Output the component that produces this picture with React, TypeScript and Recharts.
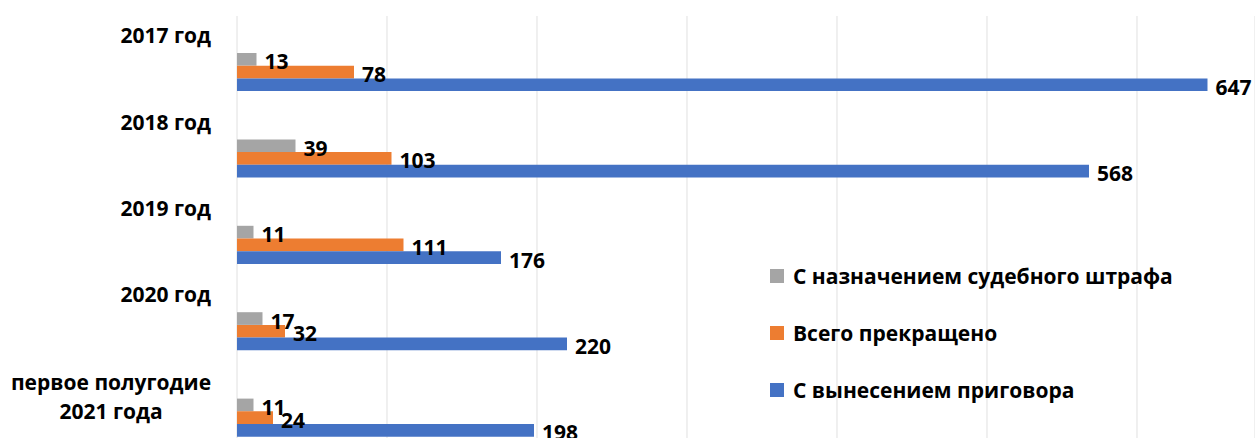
import React from 'react';
import { BarChart, Bar, XAxis, YAxis, CartesianGrid, Legend, LabelList } from 'recharts';

const categories = ['2017 год', '2018 год', '2019 год', '2020 год', 'первое полугодие\n2021 года'];
const fineValues = [13, 39, 11, 17, 11];
const terminatedValues = [78, 103, 111, 32, 24];
const sentenceValues = [647, 568, 176, 220, 198];
const seriesNames = ['С назначением судебного штрафа', 'Всего прекращено', 'С вынесением приговора'];
const seriesColors = ['#A5A5A5', '#ED7D31', '#4472C4'];
const xTicks = [0, 100, 200, 300, 400, 500, 600];

const data = categories.map((category, i) => ({
  category,
  fine: fineValues[i],
  terminated: terminatedValues[i],
  sentence: sentenceValues[i],
}));

const FONT = '"Open Sans", "Noto Sans", sans-serif';

const CatTick = (props: any) => {
  const { y, payload } = props;
  const lines: string[] = String(payload.value).split('\n');
  if (lines.length === 1) {
    return (
      <text x={211} y={y - 37} textAnchor="end" dominantBaseline="central" fontFamily={FONT} fontWeight={700} fontSize={21} fill="#000">
        {lines[0]}
      </text>
    );
  }
  return (
    <g>
      {lines.map((l, i) => (
        <text key={i} x={111} y={y - 36 + i * 29} textAnchor="middle" dominantBaseline="central" fontFamily={FONT} fontWeight={700} fontSize={21} fill="#000">
          {l}
        </text>
      ))}
    </g>
  );
};

const ValueLabel = (props: any) => {
  const { x, y, width, height, value } = props;
  return (
    <text x={x + width + 8} y={y + height / 2 + 2} textAnchor="start" dominantBaseline="central" fontFamily={FONT} fontWeight={700} fontSize={21} fill="#000">
      {value}
    </text>
  );
};

const LegendContent = (props: any) => {
  const items = [...(props.payload || [])].sort(
    (a: any, b: any) => seriesNames.indexOf(a.value) - seriesNames.indexOf(b.value)
  );
  return (
    <div style={{ fontFamily: FONT }}>
      {items.map((p: any, i: number) => (
        <div key={i} style={{ display: 'flex', alignItems: 'center', height: 28, marginBottom: i < 2 ? 29 : 0 }}>
          <span style={{ display: 'inline-block', width: 14, height: 14, background: p.color, marginRight: 9 }} />
          <span style={{ fontWeight: 700, fontSize: 21, color: '#000', whiteSpace: 'nowrap' }}>{p.value}</span>
        </div>
      ))}
    </div>
  );
};

export default function App() {
  return (
    <div style={{ position: 'fixed', left: 0, top: 0, width: 1255, height: 438, overflow: 'hidden', background: '#fff' }}>
      <BarChart
        layout="vertical"
        width={1255}
        height={461}
        data={data}
        margin={{ top: 16, right: 0, left: 0, bottom: 0 }}
        barGap={0}
        barSize={12.7}
      >
        <CartesianGrid horizontal={false} stroke="#e0e0e0" />
        <XAxis type="number" domain={[0, 678.67]} ticks={xTicks} hide allowDataOverflow />
        <YAxis
          type="category"
          dataKey="category"
          width={237}
          axisLine={false}
          tickLine={false}
          interval={0}
          padding={{ top: 13, bottom: 0 }}
          tick={<CatTick />}
        />
        <Legend
          layout="horizontal"
          verticalAlign="middle"
          align="center"
          content={<LegendContent />}
          wrapperStyle={{ position: 'absolute', left: 770, top: 262, width: 'auto', height: 'auto' }}
        />
        <Bar dataKey="fine" name={seriesNames[0]} fill={seriesColors[0]} isAnimationActive={false}>
          <LabelList dataKey="fine" content={<ValueLabel />} />
        </Bar>
        <Bar dataKey="terminated" name={seriesNames[1]} fill={seriesColors[1]} isAnimationActive={false}>
          <LabelList dataKey="terminated" content={<ValueLabel />} />
        </Bar>
        <Bar dataKey="sentence" name={seriesNames[2]} fill={seriesColors[2]} isAnimationActive={false}>
          <LabelList dataKey="sentence" content={<ValueLabel />} />
        </Bar>
      </BarChart>
    </div>
  );
}
